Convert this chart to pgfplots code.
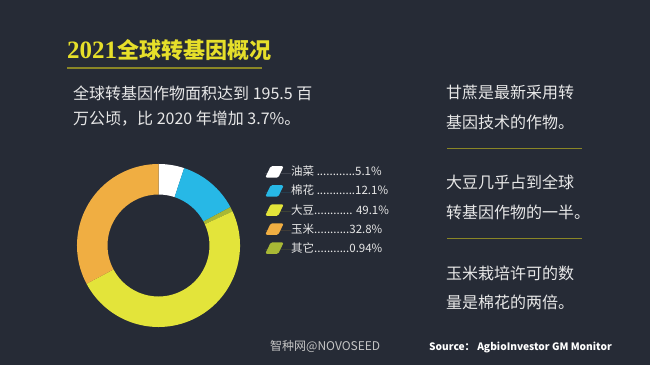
\documentclass[border=0pt]{standalone}
\usepackage{pgfplots}
\pgfplotsset{compat=1.18}
\usepackage{pgfplotstable}
\usepackage{fontspec}
\setmainfont{Noto Sans CJK SC}
\newfontfamily\lserif{Liberation Serif}
\definecolor{bg}{HTML}{262B36}
\definecolor{ctitle}{HTML}{E6DF2A}
\definecolor{cline}{HTML}{8A8626}
\definecolor{ctext}{HTML}{E8E8E8}
\definecolor{cgray}{HTML}{C4C4C4}
\definecolor{cW}{HTML}{FFFFFF}
\definecolor{cB}{HTML}{27B8E6}
\definecolor{cY}{HTML}{E3E43A}
\definecolor{cM}{HTML}{F0AE42}
\definecolor{cO}{HTML}{A8B835}

\pgfplotstableread{
crop value col
rapeseed 5.1 cW
cotton 12.1 cB
other 0.94 cO
soy 49.1 cY
corn 32.8 cM
}\piedata

\begin{document}
\begin{tikzpicture}[x=1pt,y=1pt]
\useasboundingbox (0,0) rectangle (650,365);
\fill[bg] (0,0) rectangle (650,365);
% title
\node[anchor=base west, inner sep=0, text=ctitle, font=\fontsize{22}{26}\selectfont\bfseries] at (67,306) {{\lserif\bfseries\fontsize{25}{28}\selectfont 2021}全球转基因概况};
\draw[cline, line width=1.3pt] (67,297) -- (262,297);
% left text
\node[anchor=base west, inner sep=0, text=ctext, font=\fontsize{16}{19}\selectfont] at (73,266) {全球转基因作物面积达到 195.5 百};
\node[anchor=base west, inner sep=0, text=ctext, font=\fontsize{16}{19}\selectfont] at (73,241) {万公顷，比 2020 年增加 3.7\%。};
% right text
\begin{scope}[every node/.style={anchor=base west, inner sep=0, text=ctext, font=\fontsize{16}{19}\selectfont}]
\node at (446,267) {甘蔗是最新采用转};
\node at (446,237) {基因技术的作物。};
\node at (446,177) {大豆几乎占到全球};
\node at (446,147) {转基因作物的一半。};
\node at (446,86) {玉米栽培许可的数};
\node at (446,57) {量是棉花的两倍。};
\end{scope}
\draw[cline, line width=1pt] (447,217) -- (582,217);
\draw[cline, line width=1pt] (447,127) -- (582,127);
% bottom
\node[anchor=base west, inner sep=0, text=cgray, font=\fontsize{12}{14}\selectfont] at (270,14.5) {智种网@NOVOSEED};
\node[anchor=base west, inner sep=0, text=white, font=\fontsize{10.2}{12}\selectfont\bfseries] at (429,14.5) {Source：\ AgbioInvestor GM Monitor};
% donut
\begin{axis}[at={(68.5pt,29.5pt)}, anchor=south west, x=1pt, y=1pt,
  xmin=-90, xmax=90, ymin=-90, ymax=90, hide axis, clip=false,
  legend cell align=left,
  legend style={at={(1.0917,0.9417)}, anchor=north west, draw=none, fill=none,
    text=ctext, font=\fontsize{11.5}{13}\selectfont, inner sep=0pt, row sep=6.3pt,
    nodes={inner sep=0pt, text height=8.5pt, text depth=3pt}},
  legend image code/.code={\fill[#1, rounded corners=1.5pt] (0pt,-4.5pt) -- (13pt,-4.5pt) -- (18.5pt,7pt) -- (5.5pt,7pt) -- cycle; \path (0pt,0pt) -- (26pt,0pt);}
]
\def\cum{0}
\pgfplotsforeachungrouped \i in {0,...,4}{%
  \pgfplotstablegetelem{\i}{value}\of\piedata
  \let\sliceval\pgfplotsretval
  \pgfplotstablegetelem{\i}{col}\of\piedata
  \let\slicecol\pgfplotsretval
  \pgfmathsetmacro\aA{90-3.6*\cum/1.0004}
  \pgfmathsetmacro\cum{\cum+\sliceval}
  \pgfmathsetmacro\aB{90-3.6*\cum/1.0004}
  \edef\temp{\noexpand\fill[\slicecol] (axis cs:{81.5*cos(\aA)},{81.5*sin(\aA)}) arc[start angle=\aA, end angle=\aB, radius=81.5pt] -- (axis cs:{51*cos(\aB)},{51*sin(\aB)}) arc[start angle=\aB, end angle=\aA, radius=51pt] -- cycle;}
  \temp
}
\addlegendimage{fill=cW, draw=none}
\addlegendentry{油菜 ............5.1\%}
\addlegendimage{fill=cB, draw=none}
\addlegendentry{棉花 ............12.1\%}
\addlegendimage{fill=cY, draw=none}
\addlegendentry{大豆............ 49.1\%}
\addlegendimage{fill=cM, draw=none}
\addlegendentry{玉米...........32.8\%}
\addlegendimage{fill=cO, draw=none}
\addlegendentry{其它...........0.94\%}
\end{axis}
\end{tikzpicture}
\end{document}
